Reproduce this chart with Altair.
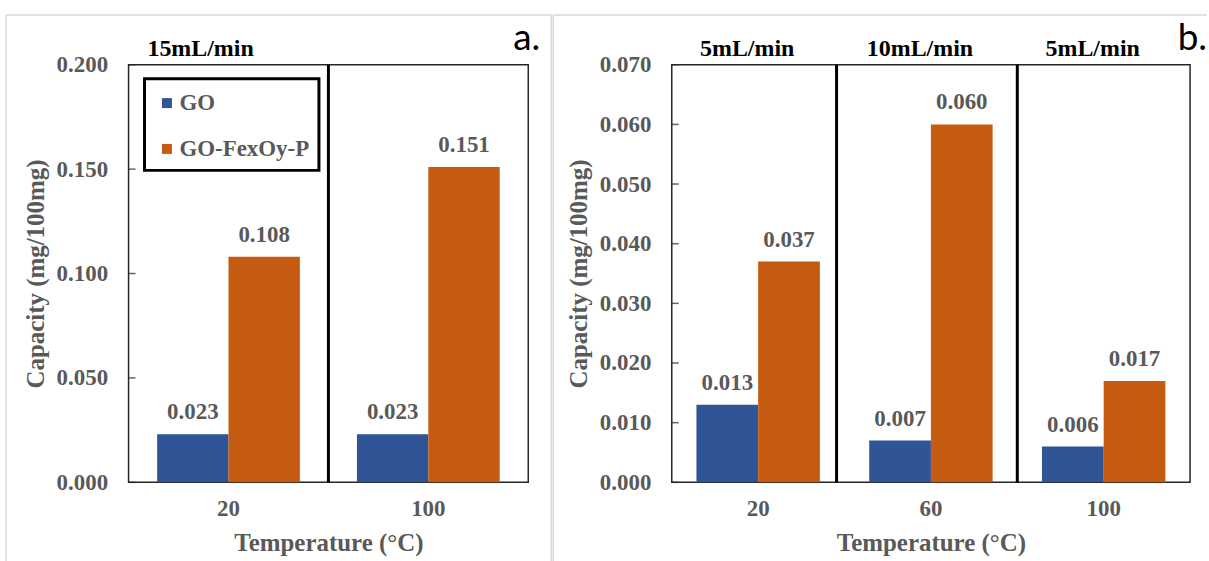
import altair as alt
import pandas as pd

# ---------------- data ----------------
series = ["GO", "GO-FexOy-P"]
colors = ["#2F5597", "#C55A11"]

temps_a = ["20", "100"]
go_a = [0.023, 0.023]
gofe_a = [0.108, 0.151]
yticks_a = [0.0, 0.05, 0.10, 0.15, 0.20]
flow_temps_a = ["20"]
flow_text_a = ["15mL/min"]
dividers_a = ["100"]
dividers_a_shift = []

temps_b = ["20", "60", "100"]
go_b = [0.013, 0.007, 0.006]
gofe_b = [0.037, 0.060, 0.017]
yticks_b = [0.0, 0.01, 0.02, 0.03, 0.04, 0.05, 0.06, 0.07]
flow_temps_b = ["20", "60", "100"]
flow_text_b = ["5mL/min", "10mL/min", "5mL/min"]
dividers_b = ["100"]
dividers_b_shift = ["60"]

SERIF = "Liberation Serif, DejaVu Serif, serif"
GRAY = "#595959"
H = 419


def panel(temps, go, gofe, yticks, dividers, dividers_shift, flow_t, flow_txt,
          flow_dx, letter, letter_x, width, frame_l, frame_r, right_border,
          legend):
    df = pd.DataFrame({
        "Temperature": temps * 2,
        "Series": [series[0]] * len(temps) + [series[1]] * len(temps),
        "Capacity": go + gofe,
    })
    xscale = alt.Scale(domain=temps, paddingInner=0, paddingOuter=0)
    yscale = alt.Scale(domain=[yticks[0], yticks[-1]], nice=False)
    xoff = alt.XOffset("Series:N", sort=series,
                       scale=alt.Scale(domain=series, paddingInner=0, paddingOuter=0.4))

    xaxis = alt.Axis(labelAngle=0, ticks=False, domain=False, grid=False,
                     labelFont=SERIF, labelFontSize=23, labelFontWeight="bold",
                     labelColor=GRAY, labelPadding=15,
                     title="Temperature (°C)", titleFont=SERIF, titleFontSize=25,
                     titleFontWeight="bold", titleColor=GRAY, titlePadding=10)
    yaxis = alt.Axis(values=yticks, format=".3f", ticks=False, tickSize=0,
                     domain=False, grid=False,
                     labelFont=SERIF, labelFontSize=23, labelFontWeight="bold",
                     labelColor=GRAY, labelPadding=21,
                     title="Capacity (mg/100mg)", titleFont=SERIF, titleFontSize=25,
                     titleFontWeight="bold", titleColor=GRAY, titlePadding=8)

    one = pd.DataFrame({"k": [0]})
    layers = []
    # light gray outer frame of the panel
    layers.append(alt.Chart(one).mark_rule(color="#d9d9d9", strokeWidth=1.5).encode(
        x=alt.value(frame_l), x2=alt.value(frame_r), y=alt.value(-50)))
    layers.append(alt.Chart(one).mark_rule(color="#d9d9d9", strokeWidth=1.5).encode(
        x=alt.value(frame_l), y=alt.value(-50), y2=alt.value(499)))
    if right_border:
        layers.append(alt.Chart(one).mark_rule(color="#d9d9d9", strokeWidth=1.5).encode(
            x=alt.value(frame_r), y=alt.value(-50), y2=alt.value(499)))

    color = alt.Color("Series:N", scale=alt.Scale(domain=series, range=colors),
                      legend=legend)
    bars = alt.Chart(df).mark_bar().encode(
        x=alt.X("Temperature:N", scale=xscale, axis=xaxis, sort=temps),
        xOffset=xoff,
        y=alt.Y("Capacity:Q", scale=yscale, axis=yaxis),
        color=color,
    )
    layers.append(bars)
    labels = alt.Chart(df).mark_text(font=SERIF, fontSize=23, fontWeight="bold",
                                     color=GRAY, baseline="alphabetic", dy=-15).encode(
        x=alt.X("Temperature:N", scale=xscale, sort=temps),
        xOffset=xoff,
        y=alt.Y("Capacity:Q", scale=yscale),
        text=alt.Text("Capacity:Q", format=".3f"),
    )
    layers.append(labels)
    # inward ticks on the y axis
    tdf = pd.DataFrame({"Capacity": yticks})
    layers.append(alt.Chart(tdf).mark_tick(orient="horizontal", size=7, thickness=1.5,
                                           color="#262626").encode(
        y=alt.Y("Capacity:Q", scale=yscale), x=alt.value(3.5)))
    # dividers between categories
    if dividers:
        layers.append(alt.Chart(pd.DataFrame({"Temperature": dividers})).mark_rule(
            color="black", strokeWidth=3).encode(
            x=alt.X("Temperature:N", scale=xscale, sort=temps, bandPosition=0)))
    if dividers_shift:
        layers.append(alt.Chart(pd.DataFrame({"Temperature": dividers_shift})).mark_rule(
            color="black", strokeWidth=3, xOffset=-8).encode(
            x=alt.X("Temperature:N", scale=xscale, sort=temps, bandPosition=0)))
    # flow-rate labels
    fdf = pd.DataFrame({"Temperature": flow_t, "Label": flow_txt})
    layers.append(alt.Chart(fdf).mark_text(font=SERIF, fontSize=24, fontWeight="bold",
                                           color="black", baseline="alphabetic",
                                           dx=flow_dx).encode(
        x=alt.X("Temperature:N", scale=xscale, sort=temps),
        y=alt.value(-9), text="Label:N"))
    # panel letter
    layers.append(alt.Chart(one).mark_text(font="Lato", fontSize=37, align="right",
                                           baseline="alphabetic", color="black").encode(
        x=alt.value(letter_x), y=alt.value(-15), text=alt.value(letter)))
    if legend is not None:
        layers.append(alt.Chart(one).mark_rect(filled=False, stroke="black",
                                               strokeWidth=3).encode(
            x=alt.value(16), x2=alt.value(191), y=alt.value(14), y2=alt.value(106)))
    return alt.layer(*layers).properties(width=width, height=H)


leg = alt.Legend(orient="none", legendX=27, legendY=27, title=None, padding=0,
                 symbolType="square", symbolSize=100, symbolStrokeWidth=0,
                 labelFont=SERIF, labelFontSize=23, labelFontWeight="bold",
                 labelColor=GRAY, labelOffset=1, rowPadding=22)

pa = panel(temps_a, go_a, gofe_a, yticks_a, dividers_a, dividers_a_shift,
           flow_temps_a, flow_text_a, -28, "a.", 413, 401, -123, 424, True, leg)
pb = panel(temps_b, go_b, gofe_b, yticks_b, dividers_b, dividers_b_shift,
           flow_temps_b, flow_text_b, -11, "b.", 537, 520, -119, 537, False, None)

chart = alt.hconcat(pa, pb, spacing=144, bounds="flush").resolve_scale(
    color="independent", xOffset="independent").properties(
    padding={"left": 4, "top": 12, "right": 0, "bottom": 0},
    background="white").configure_view(stroke="#262626", strokeWidth=1.5)

chart.save("out.html", embed_options={"renderer": "svg", "actions": False})
